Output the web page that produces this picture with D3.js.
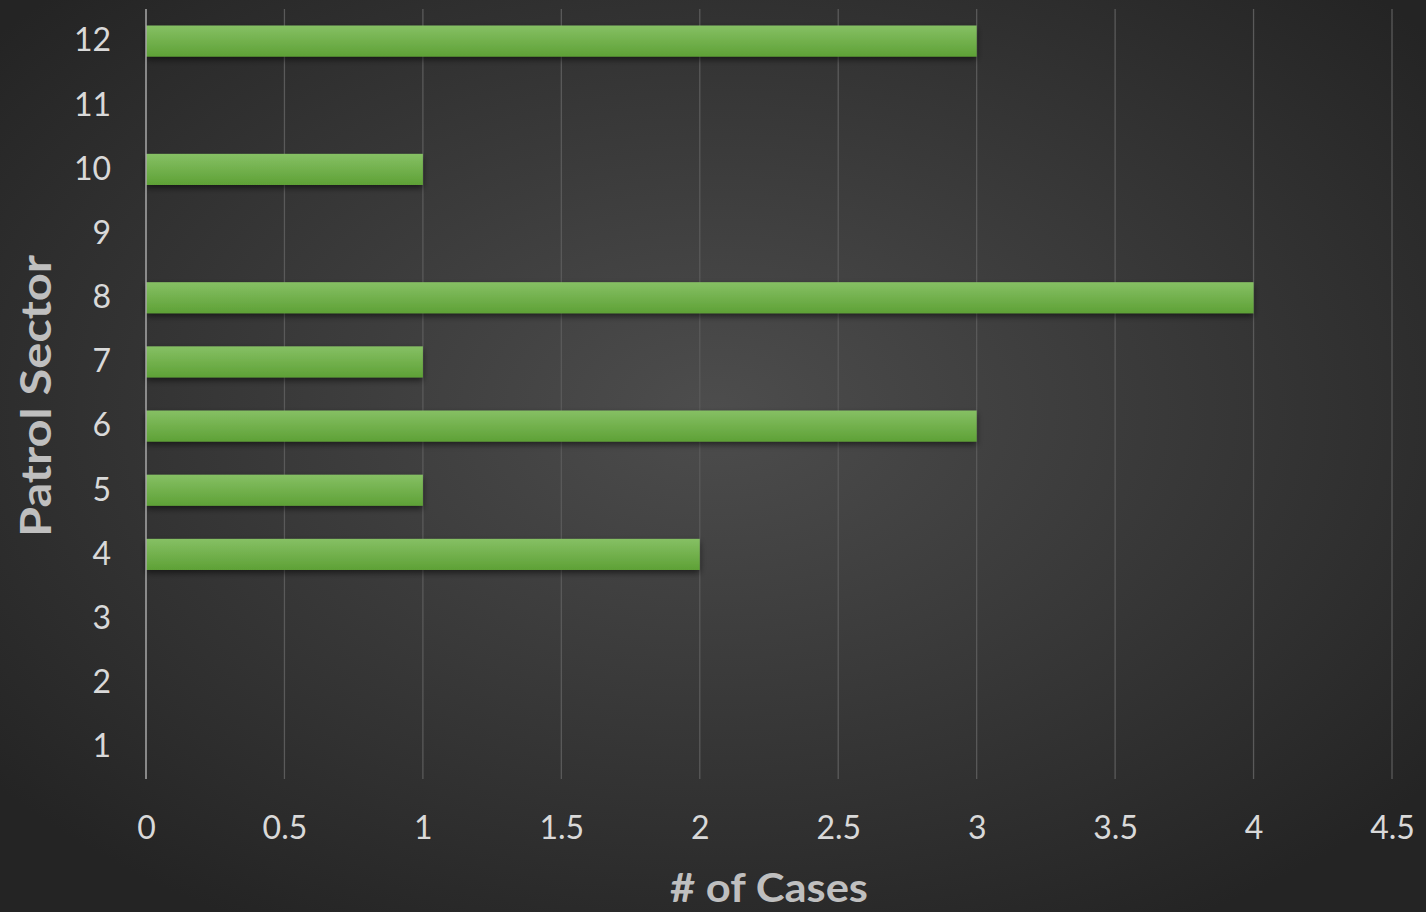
<!DOCTYPE html>
<html><head><meta charset="utf-8">
<script src="https://cdn.jsdelivr.net/npm/d3@7"></script>
<style>html,body{margin:0;padding:0;background:#2b2b2b;overflow:hidden}</style>
</head><body><svg id="c" width="1426" height="912"></svg>
<script>
const sectors = ["1","2","3","4","5","6","7","8","9","10","11","12"];
const cases = [0,0,0,2,1,3,1,4,0,1,0,3];
const xTicks = [0,0.5,1,1.5,2,2.5,3,3.5,4,4.5];
const xTitle = "# of Cases";
const yTitle = "Patrol Sector";

const W=1426,H=912;
const m={left:146,right:34,top:9,bottom:133};
const svg=d3.select("#c");
const defs=svg.append("defs");
const rg=defs.append("radialGradient").attr("id","bg").attr("cx","50%").attr("cy","45%").attr("r","65%");
rg.append("stop").attr("offset","0%").attr("stop-color","#4d4d4d");
rg.append("stop").attr("offset","100%").attr("stop-color","#242424");
const bg=defs.append("linearGradient").attr("id","bar").attr("x1",0).attr("y1",0).attr("x2",0).attr("y2",1);
bg.append("stop").attr("offset","0%").attr("stop-color","#86c064");
bg.append("stop").attr("offset","100%").attr("stop-color","#5ea136");
const f=defs.append("filter").attr("id","sh").attr("x","-5%").attr("y","-30%").attr("width","110%").attr("height","180%");
f.append("feDropShadow").attr("dx",0).attr("dy",3).attr("stdDeviation",3).attr("flood-color","#000").attr("flood-opacity",0.55);

svg.append("rect").attr("width",W).attr("height",H).attr("fill","url(#bg)");

const x=d3.scaleLinear().domain([0,4.5]).range([m.left,W-m.right]);
const y=d3.scaleBand().domain(sectors.slice().reverse()).range([m.top,H-m.bottom]).paddingInner(0.515).paddingOuter(0.2575);

// gridlines
svg.append("g").selectAll("line").data(xTicks.filter(d=>d>0)).join("line")
 .attr("x1",d=>x(d)).attr("x2",d=>x(d)).attr("y1",m.top).attr("y2",H-m.bottom)
 .attr("stroke","#5a5a5a").attr("stroke-width",1.3);

// bars
svg.append("g").selectAll("rect").data(sectors.map((s,i)=>({s,v:cases[i]})).filter(d=>d.v>0)).join("rect")
 .attr("x",x(0)).attr("y",d=>y(d.s)).attr("width",d=>x(d.v)-x(0)).attr("height",y.bandwidth())
 .attr("fill","url(#bar)").attr("filter","url(#sh)");

// axis line
svg.append("line").attr("x1",x(0)).attr("x2",x(0)).attr("y1",m.top).attr("y2",H-m.bottom)
 .attr("stroke","#a8a8a8").attr("stroke-width",1.5);

const font="Lato, 'Open Sans', sans-serif";
// x tick labels
const xa=svg.append("g").attr("transform",`translate(0,${H-m.bottom})`)
 .call(d3.axisBottom(x).tickValues(xTicks).tickFormat(d=>String(d)).tickSize(0).tickPadding(37));
xa.select(".domain").remove();
xa.selectAll("text").attr("fill","#d9d9d9").style("font-family",font).style("font-size","32px");

const ya=svg.append("g").attr("transform",`translate(${m.left},0)`)
 .call(d3.axisLeft(y).tickSize(0).tickPadding(35));
ya.select(".domain").remove();
ya.selectAll("text").attr("fill","#d9d9d9").style("font-family",font).style("font-size","32px");

svg.append("text").attr("x",769).attr("y",902).attr("text-anchor","middle")
 .attr("textLength",198).attr("lengthAdjust","spacingAndGlyphs")
 .attr("fill","#bfbfbf").style("font-family",font).style("font-weight","bold").style("font-size","40px").text(xTitle);
svg.append("text").attr("transform","translate(51,396) rotate(-90)").attr("text-anchor","middle")
 .attr("textLength",282).attr("lengthAdjust","spacingAndGlyphs")
 .attr("fill","#bfbfbf").style("font-family",font).style("font-weight","bold").style("font-size","42px").text(yTitle);
</script></body></html>
